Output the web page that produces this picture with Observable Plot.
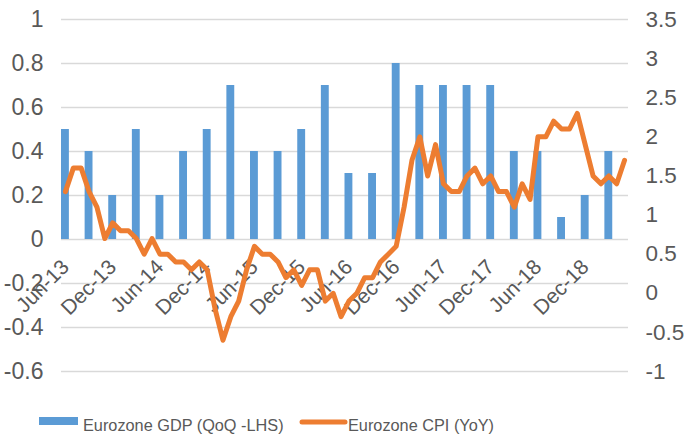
<!DOCTYPE html>
<html>
<head>
<meta charset="utf-8">
<script src="https://cdn.jsdelivr.net/npm/d3@7"></script>
<script src="https://cdn.jsdelivr.net/npm/@observablehq/plot@0.6"></script>
<style>
  body { margin: 0; background: #fff; font-family: "Liberation Sans", Arial, sans-serif; overflow: hidden; }
  #legend { position: relative; width: 684px; height: 34px; color: #595959; font-size: 16.3px; line-height: 16px; }
  #legend .t { position: absolute; top: 17px; white-space: nowrap; }
</style>
</head>
<body>
<div id="chart"></div>
<div id="legend"></div>
<script>
// ---- data ----
const seriesNames = ["Eurozone GDP (QoQ -LHS)", "Eurozone CPI (YoY)"];
const seriesColors = ["#5B9BD5", "#ED7D31"];
// quarterly GDP growth (%), one bar every 3 months starting at Jun-13
const gdp = [0.5, 0.4, 0.2, 0.5, 0.2, 0.4, 0.5, 0.7, 0.4, 0.4, 0.5, 0.7,
             0.3, 0.3, 0.8, 0.7, 0.7, 0.7, 0.7, 0.4, 0.4, 0.1, 0.2, 0.4];
// monthly CPI (YoY, %)
const cpi = [1.3, 1.6, 1.6, 1.3, 1.1, 0.7, 0.9, 0.8, 0.8, 0.7, 0.5, 0.7,
             0.5, 0.5, 0.4, 0.4, 0.3, 0.4, 0.3, -0.2, -0.6, -0.3, -0.1, 0.3,
             0.6, 0.5, 0.5, 0.4, 0.2, 0.3, 0.1, 0.3, 0.3, -0.1, 0.0, -0.3,
             -0.1, 0.0, 0.2, 0.2, 0.4, 0.5, 0.6, 1.1, 1.7, 2.0, 1.5, 1.9,
             1.4, 1.3, 1.3, 1.5, 1.6, 1.4, 1.5, 1.3, 1.3, 1.1, 1.4, 1.2,
             2.0, 2.0, 2.2, 2.1, 2.1, 2.3, 1.9, 1.5, 1.4, 1.5, 1.4, 1.7];
// x tick labels, one every 6 months
const tickLabels = ["Jun-13", "Dec-13", "Jun-14", "Dec-14", "Jun-15", "Dec-15",
                    "Jun-16", "Dec-16", "Jun-17", "Dec-17", "Jun-18", "Dec-18"];
const leftTicks = [-0.6, -0.4, -0.2, 0, 0.2, 0.4, 0.6, 0.8, 1];
const rightTicks = [-1, -0.5, 0, 0.5, 1, 1.5, 2, 2.5, 3, 3.5];
const leftDomain = [-0.6, 1];
const rightDomain = [-1, 3.5];

// ---- build ----
const toLeft = v => +(leftDomain[0] + (v - rightDomain[0]) * (leftDomain[1] - leftDomain[0]) / (rightDomain[1] - rightDomain[0])).toFixed(10);
const fmt = v => String(v);
const bars = gdp.map((v, k) => ({ i: k * 3, v }));
const line = cpi.map((v, i) => ({ i, v }));
const ticks = tickLabels.map((t, k) => ({ i: k * 6, t }));
const grey = "#595959";

const chart = Plot.plot({
  width: 684,
  height: 400,
  marginLeft: 61,
  marginRight: 56,
  marginTop: 19,
  marginBottom: 29,
  x: { domain: [-0.5, cpi.length - 0.5], axis: null },
  y: { domain: leftDomain, axis: null },
  style: { fontFamily: "'Liberation Sans', Arial, sans-serif", color: grey, background: "#fff", maxWidth: "none" },
  marks: [
    Plot.ruleY(leftTicks, { stroke: "#d9d9d9", strokeWidth: 1.3 }),
    Plot.axisY({ ticks: leftTicks, tickSize: 0, tickPadding: 18, fontSize: 23, tickFormat: fmt, label: null, fill: grey }),
    Plot.axisY({ anchor: "right", ticks: rightTicks.map(toLeft), tickSize: 0, tickPadding: 17, fontSize: 22.5, label: null, fill: grey,
      tickFormat: d => fmt(rightTicks.find(t => Math.abs(toLeft(t) - d) < 1e-6)) }),
    Plot.text(ticks, { x: "i", y: () => 0, text: "t", rotate: -45, textAnchor: "end", lineAnchor: "middle",
      dy: 24, fontSize: 21, fill: grey }),
    Plot.rectY(bars, { x1: d => d.i - 0.5, x2: d => d.i + 0.5, y: "v", fill: seriesColors[0] }),
    Plot.line(line, { x: "i", y: d => toLeft(d.v), stroke: seriesColors[1], strokeWidth: 5,
      strokeLinejoin: "round", strokeLinecap: "round" })
  ]
});
document.getElementById("chart").appendChild(chart);

// ---- legend ----
const legend = document.getElementById("legend");
legend.innerHTML = `
  <span style="position:absolute;left:39px;top:17px;width:39px;height:8px;background:${seriesColors[0]}"></span>
  <span class="t" style="left:83px">${seriesNames[0]}</span>
  <svg style="position:absolute;left:299px;top:19px" width="49" height="6"><line x1="3" y1="3" x2="46" y2="3" stroke="${seriesColors[1]}" stroke-width="5" stroke-linecap="round"/></svg>
  <span class="t" style="left:348px">${seriesNames[1]}</span>`;
</script>
</body>
</html>
